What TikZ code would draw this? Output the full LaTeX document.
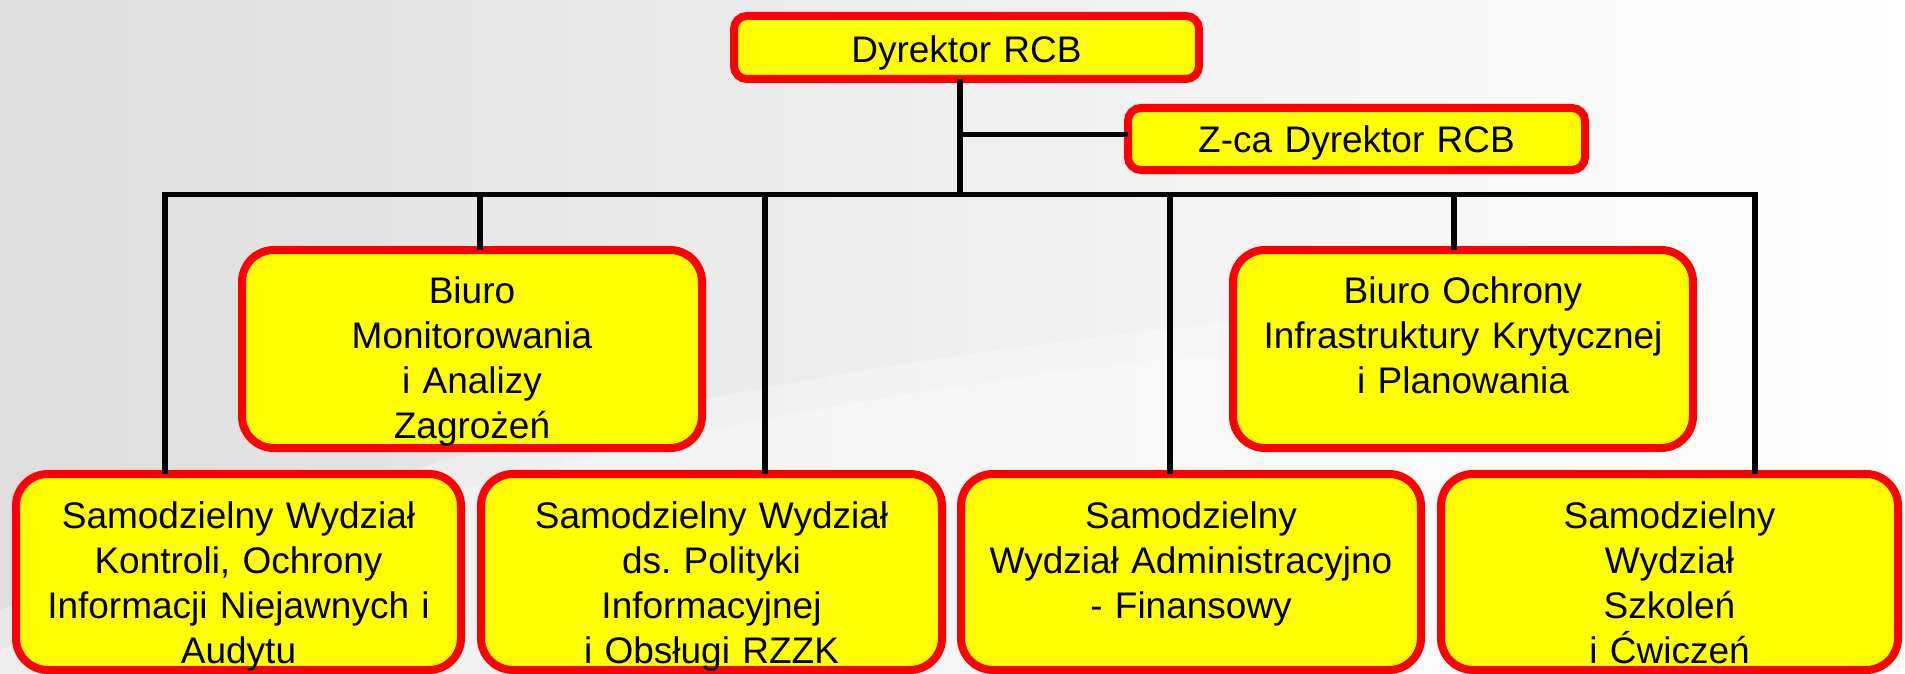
\documentclass[tikz,border=0pt]{standalone}
\usepackage{fontspec}
\setmainfont{Liberation Sans}
\frenchspacing
\definecolor{boxred}{HTML}{FF0000}
\definecolor{boxyellow}{HTML}{FFFF00}
\begin{document}
\begin{tikzpicture}[x=1pt,y=-1pt,
  orgbox/.style={draw=boxred, fill=boxyellow, line width=8pt, rounded corners=#1, inner sep=0pt, outer sep=0pt},
  orgbox/.default=32pt,
  txt/.style={font=\fontsize{37}{45}\selectfont, text width=455pt, align=center, anchor=base, inner sep=0pt},
  conn/.style={draw=black, line width=5.5pt}]
% background
\shade[left color=black!17, right color=white] (0,0) rectangle (1905,674);
\fill[white, opacity=0.3] (0,650) .. controls (500,440) and (1000,340) .. (1905,310) -- (1905,674) -- (0,674) -- cycle;
\fill[white, opacity=0.3] (0,610) .. controls (500,410) and (1000,310) .. (1905,280) -- (1905,674) -- (0,674) -- cycle;
\fill[white, opacity=0.25] (0,0) rectangle (1905,674);
\useasboundingbox (0,0) rectangle (1905,674);
% boxes
\node[orgbox=13pt, minimum width=465pt, minimum height=63pt] (dyr) at (966.5,47.5) {};
\node[orgbox=13pt, minimum width=457pt, minimum height=62pt] (zca) at (1356.5,139) {};
\node[orgbox, minimum width=460pt, minimum height=198pt] (bm) at (472,349) {};
\node[orgbox, minimum width=460pt, minimum height=198pt] (bo) at (1463,349) {};
\node[orgbox, minimum width=445pt, minimum height=196pt] (b1) at (238.5,572) {};
\node[orgbox, minimum width=461pt, minimum height=196pt] (b2) at (711.5,572) {};
\node[orgbox, minimum width=460pt, minimum height=196pt] (b3) at (1191,572) {};
\node[orgbox, minimum width=457pt, minimum height=196pt] (b4) at (1669.5,572) {};
% connector coordinates
\coordinate (trunk) at (960,194.5);
\coordinate (zb) at (960,134.5);
\coordinate (d1) at (165,194.5);
\coordinate (d2) at (480,194.5);
\coordinate (d3) at (765,194.5);
\coordinate (d4) at (1170,194.5);
\coordinate (d5) at (1454,194.5);
\coordinate (d6) at (1755,194.5);
% connectors
\draw[conn] (trunk |- dyr.south) -- (trunk);
\draw[conn] (zb) -- (zb -| zca.west);
\draw[conn] (d1 |- b1.north) -- (d1) -- (d6) -- (d6 |- b4.north);
\draw[conn] (d2) -- (d2 |- bm.north);
\draw[conn] (d3) -- (d3 |- b2.north);
\draw[conn] (d4) -- (d4 |- b3.north);
\draw[conn] (d5) -- (d5 |- bo.north);
% texts
\path (dyr.north) ++(0,47) node[txt] (tdyr) {Dyrektor RCB};
\path (zca.north) ++(0,45) node[txt] (tzca) {Z-ca Dyrektor RCB};
\path (bm.north) ++(0,53) node[txt] (tbm) {Biuro\\Monitorowania\\i Analizy\\Zagrożeń};
\path (bo.north) ++(0,53) node[txt] (tbo) {Biuro Ochrony\\Infrastruktury Krytycznej\\i Planowania};
\path (b1.north) ++(0,54) node[txt] (tb1) {Samodzielny Wydział\\Kontroli, Ochrony\\Informacji Niejawnych i\\Audytu};
\path (b2.north) ++(0,54) node[txt] (tb2) {Samodzielny Wydział\\ds. Polityki\\Informacyjnej\\i Obsługi RZZK};
\path (b3.north) ++(0,54) node[txt] (tb3) {Samodzielny\\Wydział Administracyjno\\- Finansowy};
\path (b4.north) ++(0,54) node[txt] (tb4) {Samodzielny\\Wydział\\Szkoleń\\i Ćwiczeń};
\end{tikzpicture}
\end{document}
